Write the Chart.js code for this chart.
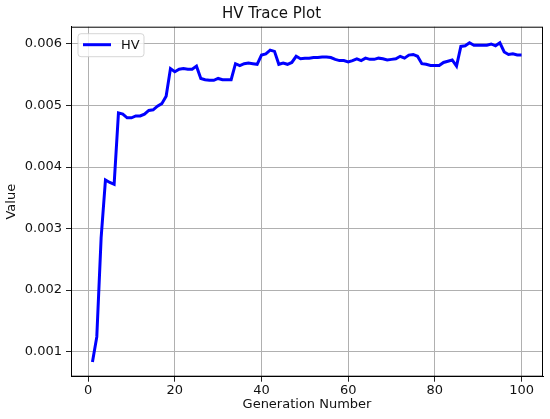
<!DOCTYPE html>
<html>
<head>
<meta charset="utf-8">
<script src="https://cdn.jsdelivr.net/npm/chart.js@4.4.1/dist/chart.umd.min.js"></script>
<style>
  html, body { margin: 0; padding: 0; background: #fff; }
  #wrap { width: 550px; height: 419px; position: relative; }
</style>
</head>
<body>
<div id="wrap"><canvas id="canvas"></canvas></div>
<script>
// generation numbers 1..100
var generations = [];
for (var g = 1; g <= 100; g++) generations.push(g);

// HV values
var hv = [
  0.00083, 0.00124, 0.00285, 0.00379, 0.00375, 0.00372, 0.00488, 0.00486, 0.00480, 0.00480,
  0.00483, 0.00483, 0.00486, 0.00492, 0.00493, 0.00499, 0.00503, 0.00515, 0.00560, 0.00555,
  0.00559, 0.00560, 0.00559, 0.00559, 0.00564, 0.00544, 0.00542, 0.00541, 0.00541, 0.00544,
  0.00542, 0.00542, 0.00542, 0.00568, 0.00565, 0.00568, 0.00569, 0.00568, 0.00567, 0.00582,
  0.00584, 0.00590, 0.00588, 0.00567, 0.00569, 0.00567, 0.00570, 0.00580, 0.00576, 0.00577,
  0.00577, 0.00578, 0.00578, 0.00579, 0.00579, 0.00578, 0.00575, 0.00573, 0.00573, 0.00571,
  0.00573, 0.00576, 0.00573, 0.00577, 0.00575, 0.00575, 0.00577, 0.00576, 0.00574, 0.00575,
  0.00576, 0.00580, 0.00577, 0.00582, 0.00583, 0.00580, 0.00568, 0.00567, 0.00565, 0.00565,
  0.00565, 0.00570, 0.00572, 0.00574, 0.00564, 0.00596, 0.00597, 0.00602, 0.00598, 0.00598,
  0.00598, 0.00598, 0.00600, 0.00597, 0.00602, 0.00587, 0.00583, 0.00584, 0.00582, 0.00582
];

var xTicks = [0, 20, 40, 60, 80, 100];
var yTicks = [0.001, 0.002, 0.003, 0.004, 0.005, 0.006];

var font = "'DejaVu Sans', sans-serif";
var textColor = '#111';

// frame round the plot + legend inside the axes (matplotlib style)
var framePlugin = {
  id: 'frame',
  afterDraw: function(chart) {
    var ctx = chart.ctx;
    var a = chart.chartArea;
    ctx.save();
    ctx.strokeStyle = '#000';
    ctx.lineWidth = 1;
    ctx.strokeRect(a.left + 0.5, a.top + 0.5, a.right - a.left - 1, a.bottom - a.top - 1);

    // legend box
    var x = a.left + 7, y = a.top + 7, w = 66, h = 23, r = 3;
    ctx.beginPath();
    ctx.moveTo(x + r, y);
    ctx.arcTo(x + w, y, x + w, y + h, r);
    ctx.arcTo(x + w, y + h, x, y + h, r);
    ctx.arcTo(x, y + h, x, y, r);
    ctx.arcTo(x, y, x + w, y, r);
    ctx.closePath();
    ctx.fillStyle = 'rgba(255,255,255,0.8)';
    ctx.fill();
    ctx.strokeStyle = 'rgba(204,204,204,0.8)';
    ctx.stroke();

    ctx.strokeStyle = '#0000ff';
    ctx.lineWidth = 3;
    ctx.beginPath();
    ctx.moveTo(x + 5, y + 11);
    ctx.lineTo(x + 33, y + 11);
    ctx.stroke();

    ctx.fillStyle = textColor;
    ctx.font = '13px ' + font;
    ctx.textBaseline = 'middle';
    ctx.fillText(chart.data.datasets[0].label, x + 43, y + 11.5);
    ctx.restore();
  }
};

var points = generations.map(function(g, i) { return { x: g, y: hv[i] }; });

var config = {
  type: 'line',
  data: {
    datasets: [
      {
        label: 'HV',
        data: points,
        borderColor: '#0000ff',
        borderWidth: 3,
        pointRadius: 0,
        fill: false,
        tension: 0
      }
    ]
  },
  options: {
    responsive: false,
    animation: false,
    layout: { padding: { left: 0, right: 7, top: 0, bottom: 0 } },
    plugins: {
      legend: { display: false },
      tooltip: { enabled: false },
      title: {
        display: true,
        text: 'HV Trace Plot',
        color: textColor,
        font: { family: font, size: 15, weight: 'normal' },
        padding: { top: 5, bottom: 3.7 }
      }
    },
    scales: {
      x: {
        type: 'linear',
        min: -3.95,
        max: 104.95,
        afterBuildTicks: function(scale) {
          scale.ticks = xTicks.map(function(v) { return { value: v }; });
        },
        afterFit: function(scale) { scale.height = 42.3; },
        ticks: {
          color: textColor,
          padding: 1,
          maxRotation: 0,
          font: { family: font, size: 13 },
          callback: function(v) { return v; }
        },
        grid: { color: '#b0b0b0', lineWidth: 1, tickLength: 5, tickColor: '#222' },
        border: { display: true, color: '#000' },
        title: {
          display: true,
          text: 'Generation Number',
          color: textColor,
          font: { family: font, size: 13 },
          padding: { top: 0, bottom: 7 }
        }
      },
      y: {
        min: 0.000593,
        max: 0.006281,
        afterBuildTicks: function(scale) {
          scale.ticks = yTicks.map(function(v) { return { value: v }; });
        },
        afterFit: function(scale) { scale.width = 71; },
        ticks: {
          color: textColor,
          padding: 4,
          font: { family: font, size: 13 },
          callback: function(v) { return v.toFixed(3); }
        },
        grid: { color: '#b0b0b0', lineWidth: 1, tickLength: 5, tickColor: '#222' },
        border: { display: true, color: '#000' },
        title: {
          display: true,
          text: 'Value',
          color: textColor,
          font: { family: font, size: 13 },
          padding: { top: 4, bottom: 0 }
        }
      }
    }
  },
  plugins: [framePlugin]
};

var canvas = document.getElementById('canvas');
canvas.width = 550;
canvas.height = 419;
new Chart(canvas, config);
</script>
</body>
</html>
